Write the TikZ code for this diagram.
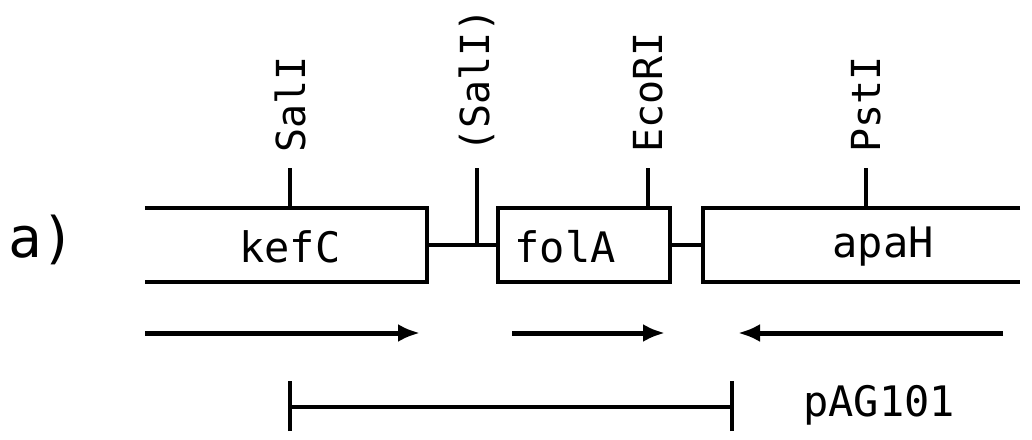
\documentclass[tikz,border=0pt]{standalone}
\usepackage{fontspec}
\setmonofont{DejaVu Sans Mono}
\usetikzlibrary{arrows.meta}

\begin{document}
\begin{tikzpicture}[x=1pt, y=-1pt,
    gene/.style={minimum height=74pt, inner sep=0pt},
    gline/.style={line width=4.5pt},
    link/.style={line width=4pt},
    site/.style={line width=3.5pt},
    enzyme/.style={rotate=90, anchor=west, inner sep=0pt, font=\ttfamily\fontsize{40}{40}\selectfont},
    gname/.style={inner sep=0pt, font=\ttfamily\fontsize{42}{42}\selectfont},
    dir/.style={line width=5pt, -{Latex[length=22pt 0 0, width=18pt 0 0]}},
    span/.style={line width=4pt}
]
\useasboundingbox (0,0) rectangle (1032,439);

% panel label
\node[gname, font=\ttfamily\fontsize{56}{56}\selectfont] (lbl) at (42,240) {a)};

% genes
\node[gene, minimum width=282pt] (kefC) at (286,245) {};
\node[gene, minimum width=172pt] (folA) at (584,245) {};
\node[gene, minimum width=317pt] (apaH) at (861.5,245) {};
\node[gname] (kefCt) at (290,247) {kefC};
\node[gname] (folAt) at (565,247) {folA};
\node[gname] (apaHt) at (883,247) {apaH};

\draw[gline] (kefC.north west) -- (kefC.north east) -- (kefC.south east) -- (kefC.south west);
\draw[gline] (folA.north west) rectangle (folA.south east);
\draw[gline] (apaH.north east) -- (apaH.north west) -- (apaH.south west) -- (apaH.south east);
\draw[link] (kefC.east) -- (folA.west);
\draw[link] (folA.east) -- (apaH.west);

% restriction sites
\coordinate (s1) at (290,168);
\coordinate (s2) at (477,168);
\coordinate (s3) at (648,168);
\coordinate (s4) at (866,168);
\draw[site] (s1) -- (s1 |- kefC.north);
\draw[site] (s2) -- (s2 |- kefC.east);
\draw[site] (s3) -- (s3 |- folA.north);
\draw[site] (s4) -- (s4 |- apaH.north);
\node[enzyme] (e1) at (290,153) {SalI};
\node[enzyme] (e2) at (477,153) {(SalI)};
\node[enzyme] (e3) at (648,153) {EcoRI};
\node[enzyme] (e4) at (866,153) {PstI};

% transcription direction
\coordinate (d1a) at (145,333);
\coordinate (d1b) at (420,333);
\coordinate (d2a) at (512,333);
\coordinate (d2b) at (665,333);
\coordinate (d3a) at (1003,333);
\coordinate (d3b) at (738,333);
\draw[dir] (d1a) -- (d1b);
\draw[dir] (d2a) -- (d2b);
\draw[dir] (d3a) -- (d3b);

% plasmid insert
\coordinate (p1) at (290,407);
\coordinate (p2) at (732,407);
\draw[span] (p1) -- (p2);
\draw[site] ([yshift=-24pt]p1) -- ([yshift=26pt]p1);
\draw[site] ([yshift=-24pt]p2) -- ([yshift=26pt]p2);
\node[gname, anchor=west] (pag) at (803,405) {pAG101};
\end{tikzpicture}
\end{document}
